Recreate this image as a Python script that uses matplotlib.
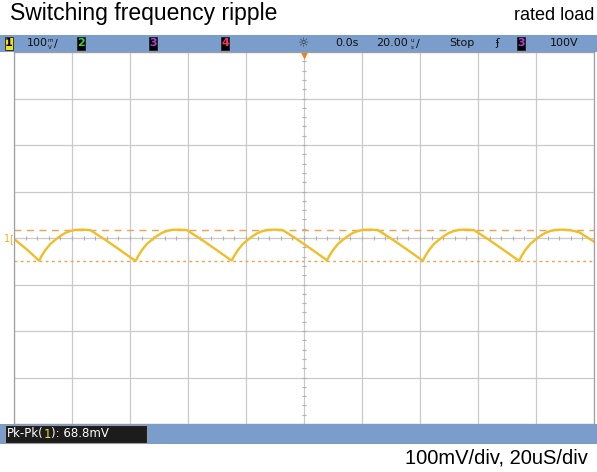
import matplotlib.pyplot as plt
import numpy as np
from matplotlib.patches import Rectangle

# scope trace: time in us, ripple in mV
time_us = [-100.0, -95.5,
           -91.3, -90.6, -89.2, -87.5, -85.8, -84.1, -82.3, -80.6, -78.9, -76.1, -73.7, -68.5, -63.4, -58.9,
           -58.0, -57.3, -55.9, -54.2, -52.5, -50.8, -49.0, -47.3, -45.6, -42.8, -40.4, -35.2, -30.1, -25.6,
           -24.9, -24.2, -22.8, -21.1, -19.4, -17.7, -15.9, -14.2, -12.5, -9.7, -7.3, -2.1, 3.0, 7.5,
           7.9, 8.6, 10.0, 11.7, 13.4, 15.1, 16.9, 18.6, 20.3, 23.1, 25.5, 30.7, 35.8, 40.3,
           41.0, 41.7, 43.1, 44.8, 46.5, 48.2, 50.0, 51.7, 53.4, 56.2, 58.6, 63.8, 68.9, 73.4,
           74.2, 74.9, 76.3, 78.0, 79.7, 81.4, 83.2, 84.9, 86.6, 89.4, 91.8, 95.0, 100.0]
ripple_mv = [-2, -25,
             -49, -40, -26, -13, -4, 4, 11, 15, 17.5, 18, 17, -4, -26, -46,
             -49, -40, -26, -13, -4, 4, 11, 15, 17.5, 18, 17, -4, -26, -46,
             -48, -40, -26, -13, -4, 4, 11, 15, 17.5, 18, 17, -4, -26, -46,
             -49, -40, -26, -13, -4, 4, 11, 15, 17.5, 18, 17, -4, -26, -46,
             -49, -40, -26, -13, -4, 4, 11, 15, 17.5, 18, 17, -4, -26, -46,
             -49, -40, -26, -13, -4, 4, 11, 15, 17.5, 18, 17, 12, -8]
cursor_top = 18
cursor_bottom = -49

title = 'Switching frequency ripple'
subtitle = 'rated load'
scale_text = '100mV/div, 20uS/div'
meas_label = 'Pk-Pk('
meas_chan = '1'
meas_value = '): 68.8mV'

W, H = 597, 472
bar_blue = '#7b9dcc'
trace_col = '#f0be28'
cursor_col = '#f0a050'
scope_font = ['Liberation Sans Narrow', 'DejaVu Sans Condensed', 'DejaVu Sans']

fig = plt.figure(figsize=(W/100, H/100), dpi=100)
fig.patch.set_facecolor('white')

def fx(x):
    return x / W

def fy(y):
    return 1 - y / H

# status bars
fig.patches.append(Rectangle((0, fy(52)), 1, 17/H, transform=fig.transFigure,
                             facecolor=bar_blue, edgecolor='none'))
fig.patches.append(Rectangle((0, fy(444)), 1, 20/H, transform=fig.transFigure,
                             facecolor=bar_blue, edgecolor='none'))

# graticule
ax = fig.add_axes([fx(14), fy(424), 580/W, 372/H])
ax.set_xlim(-100, 100)
ax.set_ylim(-400, 400)
ax.set_xticks(np.arange(-100, 101, 20))
ax.set_yticks(np.arange(-400, 401, 100))
ax.tick_params(length=0, labelbottom=False, labelleft=False)
ax.grid(color='#c9c9c9', lw=0.9)
for s in ax.spines.values():
    s.set_color('#a0a0a0')
    s.set_linewidth(0.9)
ax.plot(np.arange(-100, 101, 4), np.zeros(51), ls='none', marker='|', ms=3,
        color='#b0b0b0', mew=0.8)
ax.plot(np.zeros(41), np.arange(-400, 401, 20), ls='none', marker='_', ms=3,
        color='#b0b0b0', mew=0.8)

ax.axhline(cursor_top, color=cursor_col, lw=1.0, ls=(0, (5, 4)))
ax.axhline(cursor_bottom, color=cursor_col, lw=1.0, ls=(0, (2, 2.5)))
ax.plot(time_us, ripple_mv, color=trace_col, lw=1.7)

ax.plot(0, 393, marker='v', color='#f07d1a', ms=6, clip_on=False, mec='none')

# ground marker for channel 1
fig.text(fx(4), fy(239), '1', color='#e8b030', fontsize=7, va='center',
         family=scope_font)
fig.text(fx(9), fy(239), '[', color='#e8b030', fontsize=7, va='center',
         family=scope_font)

# titles
fig.text(fx(10), fy(20), title, fontsize=16.5, family='Liberation Sans',
         va='baseline')
fig.text(fx(594), fy(19.5), subtitle, fontsize=13, family='Liberation Sans',
         va='baseline', ha='right')
fig.text(fx(588), fy(463), scale_text, fontsize=14.5, family='Liberation Sans',
         va='baseline', ha='right')

# top bar contents
def chan_box(x, label, fc, tc):
    fig.patches.append(Rectangle((fx(x), fy(50)), 8/W, 13/H, transform=fig.transFigure,
                                 facecolor=fc, edgecolor='#222222', lw=0.6))
    fig.text(fx(x + 4), fy(43.5), label, color=tc, fontsize=8, ha='center',
             va='center', family=scope_font, weight='bold')

chan_box(5, '1', '#f0e020', 'black')
chan_box(77, '2', 'black', '#40d040')
chan_box(149, '3', 'black', '#b040e0')
chan_box(221, '4', 'black', '#ff3060')
chan_box(517, '3', 'black', '#b040e0')

def bar_text(x, s, ha='left'):
    fig.text(fx(x), fy(43.5), s, fontsize=8, ha=ha, va='center',
             family=scope_font, color='#111111')

def unit_text(x, top, bottom):
    fig.text(fx(x), fy(40), top, fontsize=4, ha='center', va='center',
             family=scope_font, color='#111111')
    fig.text(fx(x), fy(47.5), bottom, fontsize=4, ha='center', va='center',
             family=scope_font, color='#111111')

bar_text(27, '100')
unit_text(50, 'm', 'V')
bar_text(54, '/')
fig.text(fx(304), fy(43.5), '\u263c', fontsize=9, ha='center', va='center',
         color='#333333', family='DejaVu Sans')
bar_text(335, '0.0s')
bar_text(376, '20.00')
unit_text(412.5, 'u', 's')
bar_text(415.5, '/')
bar_text(449, 'Stop')
fig.text(fx(497), fy(43.5), '\u0284', fontsize=8, ha='center', va='center',
         color='#111111', family='DejaVu Sans')
bar_text(550, '100V')

# measurement box
fig.patches.append(Rectangle((fx(5), fy(443)), 142/W, 18/H, transform=fig.transFigure,
                             facecolor='#1c1c1c', edgecolor='#9a9a9a', lw=0.8))
r = fig.canvas.get_renderer()
x0 = fx(7)
for part, col in [(meas_label, 'white'), (meas_chan, '#f0e020'), (meas_value, 'white')]:
    t = fig.text(x0, fy(434), part, color=col, fontsize=8.5, va='center',
                 family=scope_font)
    bb = t.get_window_extent(renderer=r)
    x0 += bb.width / fig.bbox.width

fig.savefig('out.png', dpi=100)
